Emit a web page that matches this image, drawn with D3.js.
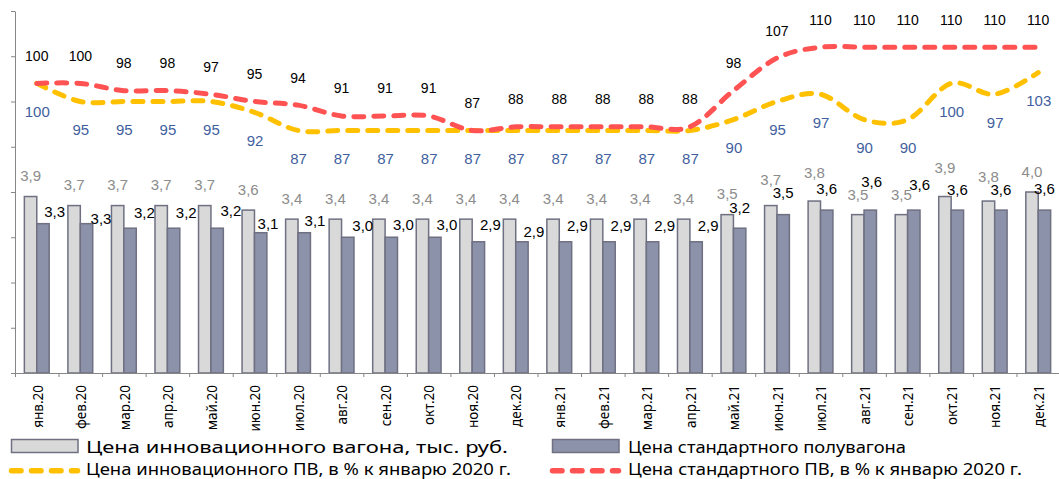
<!DOCTYPE html>
<html>
<head>
<meta charset="utf-8">
<script src="https://cdn.jsdelivr.net/npm/d3@7"></script>
<style>
  html, body { margin: 0; padding: 0; background: #fff; }
  svg { display: block; }
</style>
</head>
<body>
<svg id="chart" width="1059" height="479"></svg>
<script>
// ---- data ----
const months = ["янв.20", "фев.20", "мар.20", "апр.20", "май.20", "июн.20", "июл.20", "авг.20", "сен.20", "окт.20", "ноя.20", "дек.20",
                "янв.21", "фев.21", "мар.21", "апр.21", "май.21", "июн.21", "июл.21", "авг.21", "сен.21", "окт.21", "ноя.21", "дек.21"];
const innovPrice    = [3.9, 3.7, 3.7, 3.7, 3.7, 3.6, 3.4, 3.4, 3.4, 3.4, 3.4, 3.4, 3.4, 3.4, 3.4, 3.4, 3.5, 3.7, 3.8, 3.5, 3.5, 3.9, 3.8, 4.0];
const standardPrice = [3.3, 3.3, 3.2, 3.2, 3.2, 3.1, 3.1, 3.0, 3.0, 3.0, 2.9, 2.9, 2.9, 2.9, 2.9, 2.9, 3.2, 3.5, 3.6, 3.6, 3.6, 3.6, 3.6, 3.6];
const innovIndex    = [100, 95, 95, 95, 95, 92, 87, 87, 87, 87, 87, 87, 87, 87, 87, 87, 90, 95, 97, 90, 90, 100, 97, 103];
const standardIndex = [100, 100, 98, 98, 97, 95, 94, 91, 91, 91, 87, 88, 88, 88, 88, 88, 98, 107, 110, 110, 110, 110, 110, 110];
const barTicks = [0, 1, 2, 3, 4, 5, 6, 7, 8];
const legendLabels = [
  "Цена инновационного вагона, тыс. руб.",
  "Цена стандартного полувагона",
  "Цена инновационного ПВ, в % к январю 2020 г.",
  "Цена стандартного ПВ, в % к январю 2020 г."
];

// label nudges (layout only): offsets relative to bar top / bar centre, as placed in the original
const lightLabelDy = [-15.5, -15.5, -15.5, -15.5, -15.5, -15.5, -15.5, -15.5, -15.5, -15.5, -15.5, -15.5,
                      -15.5, -15.5, -15.5, -15.5, -16, -20.6, -22.7, -14.6, -15, -23.8, -19, -15.3];
const darkLabelDx  = [11.7, 14.5, 14.4, 12.7, 13.8, 7.3, 10.8, 15, 12, 12, 12, 12,
                      12, 12, 12, 12, 0, 0, 0, 1.3, 5.8, 0, 0, 0];
const darkLabelDy  = [-6.4, 0, -10, -10, -12, -3.7, -6.3, -6, -7, -7, -12, -5,
                      -11, -11, -11, -11, -15, -16.3, -15.7, -23.3, -20.5, -15.3, -15, -16];

(function () {
// ---- layout ----
const svg = d3.select("#chart");
const pLeft = 15, pRight = 1060, pTop = 11, pBottom = 373;
const axisColor = "#868686";
const lightFill = "#d9d9d9", darkFill = "#8b92a9", barStroke = "#6f7082";
const yellow = "#ffc000", red = "#ff5353", blue = "#3f5f9e";
const numFont = "'Liberation Sans', Arial, sans-serif";
const txtFont = "'Noto Sans', 'Open Sans', sans-serif";

const x = d3.scaleBand().domain(months).range([pLeft, pRight]).padding(0);
const xEdge = d3.scaleLinear().domain([0, months.length]).range([pLeft, pRight]);
const yBar = d3.scaleLinear().domain([0, 8]).range([pBottom, pTop]);
const yIdx = d3.scaleLinear().domain([20, 120]).range([pBottom, pTop]);
const cx = m => x(m) + x.bandwidth() / 2;
const bw = x.bandwidth() * 0.285;
const fmt = v => d3.format(".1f")(v).replace(".", ",");

// ---- axes ----
const gy = svg.append("g").attr("transform", `translate(${pLeft},0)`)
  .call(d3.axisLeft(yBar).tickValues(barTicks).tickSize(4).tickSizeOuter(0).tickFormat(""));
gy.selectAll("path, line").attr("stroke", axisColor);

// ---- bars ----
const gBars = svg.append("g");
gBars.selectAll("rect.light").data(innovPrice).join("rect")
  .attr("class", "light")
  .attr("x", (d, i) => cx(months[i]) - bw)
  .attr("width", bw)
  .attr("y", d => yBar(d))
  .attr("height", d => pBottom - yBar(d))
  .attr("fill", lightFill).attr("stroke", barStroke).attr("stroke-width", 1.5);
gBars.selectAll("rect.dark").data(standardPrice).join("rect")
  .attr("class", "dark")
  .attr("x", (d, i) => cx(months[i]))
  .attr("width", bw)
  .attr("y", d => yBar(d))
  .attr("height", d => pBottom - yBar(d))
  .attr("fill", darkFill).attr("stroke", barStroke).attr("stroke-width", 1.5);

const gx = svg.append("g").attr("transform", `translate(0,${pBottom})`)
  .call(d3.axisBottom(xEdge).tickValues(d3.range(0, months.length + 1)).tickSize(4).tickSizeOuter(0).tickFormat(""));
gx.selectAll("path, line").attr("stroke", axisColor);

// x labels (rotated)
svg.append("g").selectAll("text").data(months).join("text")
  .attr("transform", d => `translate(${cx(d) + 1},385) rotate(-90)`)
  .attr("text-anchor", "end")
  .attr("dy", "0.35em")
  .attr("font-family", txtFont)
  .attr("font-size", 13.5)
  .attr("fill", "#000")
  .text(d => d);

// ---- lines ----
const line = d3.line()
  .x((d, i) => cx(months[i]))
  .y(d => yIdx(d))
  .curve(d3.curveCatmullRom.alpha(0));

svg.append("path").datum(innovIndex)
  .attr("d", line).attr("fill", "none")
  .attr("stroke", yellow).attr("stroke-width", 5)
  .attr("stroke-linecap", "round").attr("stroke-dasharray", "10,10");
svg.append("path").datum(standardIndex)
  .attr("d", line).attr("fill", "none")
  .attr("stroke", red).attr("stroke-width", 5)
  .attr("stroke-linecap", "round").attr("stroke-dasharray", "10,10");

// ---- labels ----
svg.append("g").selectAll("text").data(innovPrice).join("text")
  .attr("x", (d, i) => cx(months[i]) - bw / 2)
  .attr("y", (d, i) => yBar(d) + lightLabelDy[i])
  .attr("text-anchor", "middle")
  .attr("font-family", numFont).attr("font-size", 15)
  .attr("fill", "#8c8c8c")
  .text(d => fmt(d));

svg.append("g").selectAll("text").data(standardPrice).join("text")
  .attr("x", (d, i) => cx(months[i]) + bw / 2 + darkLabelDx[i])
  .attr("y", (d, i) => yBar(d) + darkLabelDy[i])
  .attr("text-anchor", "middle")
  .attr("font-family", numFont).attr("font-size", 15)
  .attr("fill", "#000")
  .text(d => fmt(d));

svg.append("g").selectAll("text").data(standardIndex).join("text")
  .attr("x", (d, i) => cx(months[i]))
  .attr("y", d => yIdx(d) - 22.5)
  .attr("text-anchor", "middle")
  .attr("font-family", numFont).attr("font-size", 14)
  .attr("fill", "#000")
  .text(d => d);

svg.append("g").selectAll("text").data(innovIndex).join("text")
  .attr("x", (d, i) => cx(months[i]) + 0.5)
  .attr("y", d => yIdx(d) + 33.5)
  .attr("text-anchor", "middle")
  .attr("font-family", numFont).attr("font-size", 15)
  .attr("fill", blue)
  .text(d => d);

// ---- legend ----
const legend = svg.append("g");
const legCols = [11.5, 552.5];
const legTextX = [86, 628];
const legTargetW = [422, 278, 425, 394];
[0, 1].forEach(c => {
  legend.append("rect")
    .attr("x", legCols[c]).attr("y", 439.5).attr("width", 66.5).attr("height", 13)
    .attr("fill", c === 0 ? lightFill : darkFill)
    .attr("stroke", barStroke).attr("stroke-width", 1.5);
  legend.append("line")
    .attr("x1", legCols[c] + 0).attr("x2", legCols[c] + 66)
    .attr("y1", 470.7).attr("y2", 470.7)
    .attr("stroke", c === 0 ? yellow : red).attr("stroke-width", 5.5)
    .attr("stroke-linecap", "round").attr("stroke-dasharray", "9.5,10.5");
});
legendLabels.forEach((t, k) => {
  const col = k % 2, row = Math.floor(k / 2);
  const el = legend.append("text")
    .attr("x", legTextX[col]).attr("y", row === 0 ? 452.5 : 474.5)
    .attr("font-family", txtFont).attr("font-size", 17)
    .attr("fill", "#000")
    .text(t);
  const w = el.node().getComputedTextLength();
  if (Math.abs(w - legTargetW[k]) > 2) {
    el.attr("textLength", legTargetW[k]).attr("lengthAdjust", "spacingAndGlyphs");
  }
});
})();
</script>
</body>
</html>
